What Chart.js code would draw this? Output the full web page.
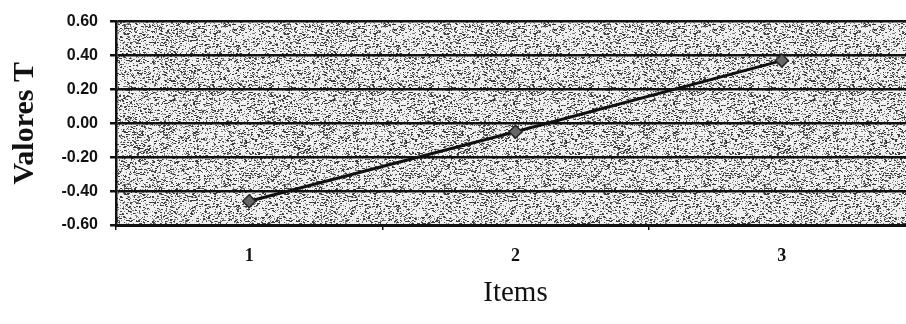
<!DOCTYPE html>
<html>
<head>
<meta charset="utf-8">
<script src="https://cdn.jsdelivr.net/npm/chart.js@4"></script>
<style>
  html, body { margin: 0; padding: 0; background: #fff; overflow: hidden; }
  #wrap { width: 930px; height: 324px; }
</style>
</head>
<body>
<div id="wrap"><canvas id="chart" width="930" height="324"></canvas></div>
<script>
const items = ['1', '2', '3'];
const valoresT = [-0.46, -0.05, 0.37];
const yMin = -0.6;
const yMax = 0.6;
const yStep = 0.2;

// stippled gray fill like the scanned original (deterministic hash, not data)
function speckle() {
  const c = document.createElement('canvas');
  c.width = 160; c.height = 160;
  const g = c.getContext('2d');
  g.fillStyle = '#f0f0f0';
  g.fillRect(0, 0, 160, 160);
  for (let y = 0; y < 160; y++) {
    for (let x = 0; x < 160; x++) {
      const s = Math.sin((x * 127.1 + y * 311.7)) * 43758.5453;
      const r = s - Math.floor(s);
      if (r < 0.24) {
        g.fillStyle = r < 0.1 ? '#3c3c3c' : '#7a7a7a';
        g.fillRect(x, y, r < 0.07 ? 2 : 1, 1);
      }
    }
  }
  return c;
}

const bgPlugin = {
  id: 'bg',
  beforeDraw(chart) {
    const {ctx, chartArea: a} = chart;
    ctx.save();
    ctx.fillStyle = ctx.createPattern(speckle(), 'repeat');
    ctx.fillRect(a.left, a.top, a.right - a.left, a.bottom - a.top);
    ctx.restore();
  }
};

const ctx = document.getElementById('chart').getContext('2d');
new Chart(ctx, {
  type: 'line',
  data: {
    labels: items,
    datasets: [{
      data: valoresT,
      borderColor: '#111',
      borderWidth: 3,
      pointStyle: 'rectRot',
      pointRadius: 6.5,
      pointBackgroundColor: '#666',
      pointBorderColor: '#222',
      pointBorderWidth: 1.5,
      tension: 0,
    }],
  },
  options: {
    responsive: false,
    animation: false,
    layout: { padding: { top: 21, right: 15, left: 0, bottom: 0 } },
    plugins: { legend: { display: false }, tooltip: { enabled: false } },
    scales: {
      x: {
        offset: true,
        grid: { offset: true, drawOnChartArea: false, drawTicks: true, tickLength: 5, color: '#111', lineWidth: 1.5 },
        border: { display: true, color: '#111', width: 3 },
        ticks: { color: '#111', padding: 16, font: { family: 'Liberation Serif', size: 18, weight: 'bold' } },
        title: {
          display: true, text: 'Items', color: '#111',
          font: { family: 'Liberation Serif', size: 29, weight: 'normal' },
          padding: { top: 0, bottom: 13 },
        },
        afterFit(scale) { scale.height = 99; },
      },
      y: {
        min: yMin, max: yMax,
        grid: { color: '#111', lineWidth: 2.5, drawTicks: true, tickLength: 6 },
        border: { display: true, color: '#111', width: 2.5 },
        ticks: {
          stepSize: yStep, color: '#111', padding: 12,
          font: { family: 'Liberation Sans', size: 16, weight: 'bold' },
          callback: (v) => v.toFixed(2),
        },
        title: {
          display: true, text: 'Valores T', color: '#111',
          font: { family: 'Liberation Serif', size: 30, weight: 'bold' },
          padding: { top: 7, bottom: 0 },
        },
        afterFit(scale) { scale.width = 116; },
      },
    },
  },
  plugins: [bgPlugin],
});
</script>
</body>
</html>
